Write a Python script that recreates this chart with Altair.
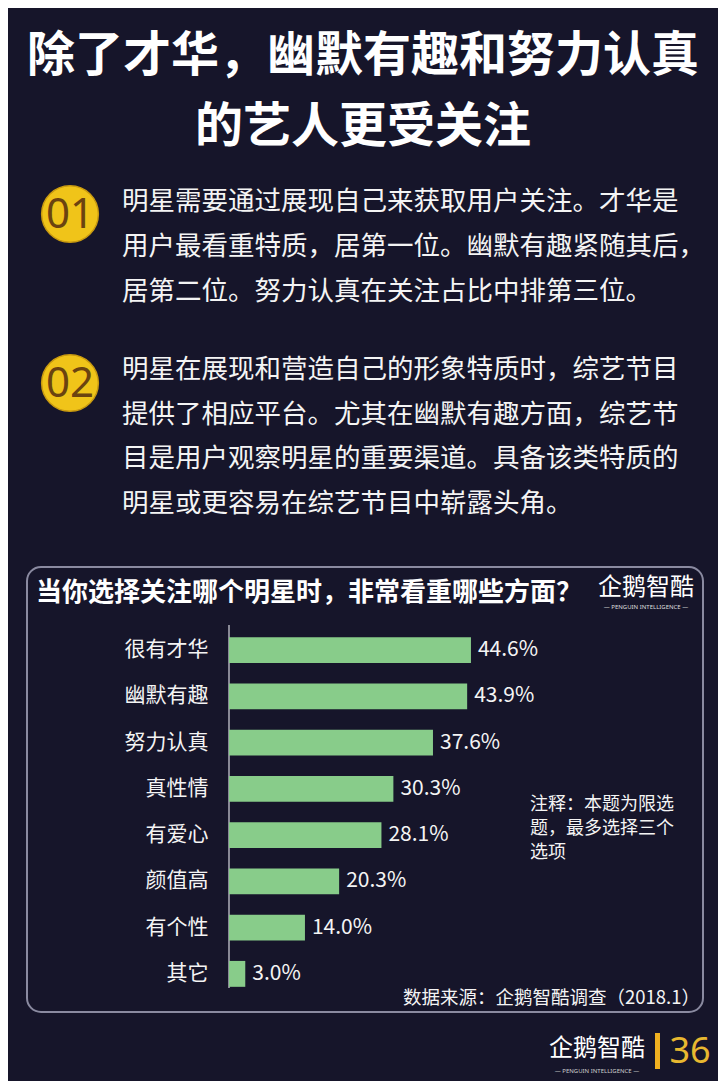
import altair as alt
import pandas as pd

# ---- data ----
categories = ["很有才华", "幽默有趣", "努力认真", "真性情", "有爱心", "颜值高", "有个性", "其它"]
values = [44.6, 43.9, 37.6, 30.3, 28.1, 20.3, 14.0, 3.0]

title_lines = ["除了才华，幽默有趣和努力认真", "的艺人更受关注"]
para1 = ["明星需要通过展现自己来获取用户关注。才华是",
         "用户最看重特质，居第一位。幽默有趣紧随其后，",
         "居第二位。努力认真在关注占比中排第三位。"]
para2 = ["明星在展现和营造自己的形象特质时，综艺节目",
         "提供了相应平台。尤其在幽默有趣方面，综艺节",
         "目是用户观察明星的重要渠道。具备该类特质的",
         "明星或更容易在综艺节目中崭露头角。"]
chart_title = "当你选择关注哪个明星时，非常看重哪些方面？"
note_lines = ["注释：本题为限选", "题，最多选择三个", "选项"]
source = "数据来源：企鹅智酷调查（2018.1）"
brand = "企鹅智酷"
brand_en = "— PENGUIN INTELLIGENCE —"
page_no = "36"

df = pd.DataFrame({"item": categories, "value": values})
one = pd.DataFrame({"k": [0]})

CJK = "Noto Sans CJK SC"
BG = "#16152a"
WHITE = "#f4f4f4"
GOLD = "#f0c419"

# plot origin in page coords
OX, OY = 229, 627
W, H = 434, 370


def txt(s, px, py, size, color=WHITE, weight="normal", align="left", font=CJK):
    return alt.Chart(one).mark_text(
        text=s, fontSize=size, font=font, fontWeight=weight, color=color,
        align=align, baseline="middle"
    ).encode(x=alt.value(px - OX), y=alt.value(py - OY))


layers = []

# title
layers.append(txt(title_lines[0], 363, 57, 48, "#ffffff", "bold", "center"))
layers.append(txt(title_lines[1], 363, 128, 48, "#ffffff", "bold", "center"))

# numbered circles
for num, cy in [("01", 214), ("02", 383)]:
    layers.append(alt.Chart(one).mark_circle(
        color=GOLD, opacity=1, size=3217, stroke="#c99a10", strokeWidth=1.5
    ).encode(x=alt.value(70 - OX), y=alt.value(cy - OY)))
    layers.append(txt(num, 70, cy + 1, 42, "#6b4310", "normal", "center", "Noto Sans"))

# paragraphs
for i, line in enumerate(para1):
    layers.append(txt(line, 122, 202 + i * 45, 26.5))
for i, line in enumerate(para2):
    layers.append(txt(line, 122, 370 + i * 44.5, 26.5))

# panel frame
layers.append(alt.Chart(one).mark_rect(
    fillOpacity=0, stroke="#8a8aa0", strokeWidth=2, cornerRadius=14
).encode(x=alt.value(27 - OX), x2=alt.value(703 - OX),
         y=alt.value(567 - OY), y2=alt.value(1012 - OY)))

# chart header
layers.append(txt(chart_title, 36, 593, 26, "#ffffff", "bold"))
layers.append(txt(brand, 646, 588, 24, "#ffffff", "normal", "center"))
layers.append(txt(brand_en, 646, 607, 6, "#dddddd", "normal", "center", "Noto Sans"))

# axis line
layers.append(alt.Chart(one).mark_rule(color="#d8d8e0", strokeWidth=1.2).encode(
    x=alt.value(0), y=alt.value(-2), y2=alt.value(361)))

# bars
base = alt.Chart(df)
bars = base.mark_bar(color="#88cc8a").encode(
    y=alt.Y("item:N", sort=None, title=None,
            scale=alt.Scale(paddingInner=0.44, paddingOuter=0.22),
            axis=alt.Axis(domain=False, ticks=False, labelFont=CJK, labelFontSize=21,
                          labelColor=WHITE, labelPadding=21, grid=False)),
    x=alt.X("value:Q", scale=alt.Scale(domain=[0, 80]), axis=None),
)
labels = base.transform_calculate(
    lab="format(datum.value, '.1f') + '%'"
).mark_text(align="left", baseline="middle", dx=7, fontSize=21, font=CJK, color=WHITE).encode(
    y=alt.Y("item:N", sort=None),
    x=alt.X("value:Q"),
    text="lab:N",
)
layers.append(bars)
layers.append(labels)

# note and source
for i, line in enumerate(note_lines):
    layers.append(txt(line, 530, 805 + i * 24, 18))
layers.append(txt(source, 700, 998, 18.5, WHITE, "normal", "right"))

# footer
layers.append(txt(brand, 597, 1049, 24, "#ffffff", "normal", "center"))
layers.append(txt(brand_en, 597, 1071, 6, "#cccccc", "normal", "center", "Noto Sans"))
layers.append(alt.Chart(one).mark_rect(color="#f0b020").encode(
    x=alt.value(655 - OX), x2=alt.value(660 - OX),
    y=alt.value(1033 - OY), y2=alt.value(1069 - OY)))
layers.append(txt(page_no, 690, 1052, 36, "#e8b830", "normal", "center", "Noto Sans"))

chart = alt.layer(*layers).properties(
    width=W, height=H,
    autosize=alt.AutoSizeParams(type="none"),
    padding={"left": OX - 8, "top": OY - 8, "right": 710 - (OX - 8) - W, "bottom": 1073 - (OY - 8) - H},
    background=BG,
).resolve_scale(y="shared", x="shared").configure_view(stroke=None)

chart.save("out.html", embed_options={"renderer": "svg", "actions": False})
